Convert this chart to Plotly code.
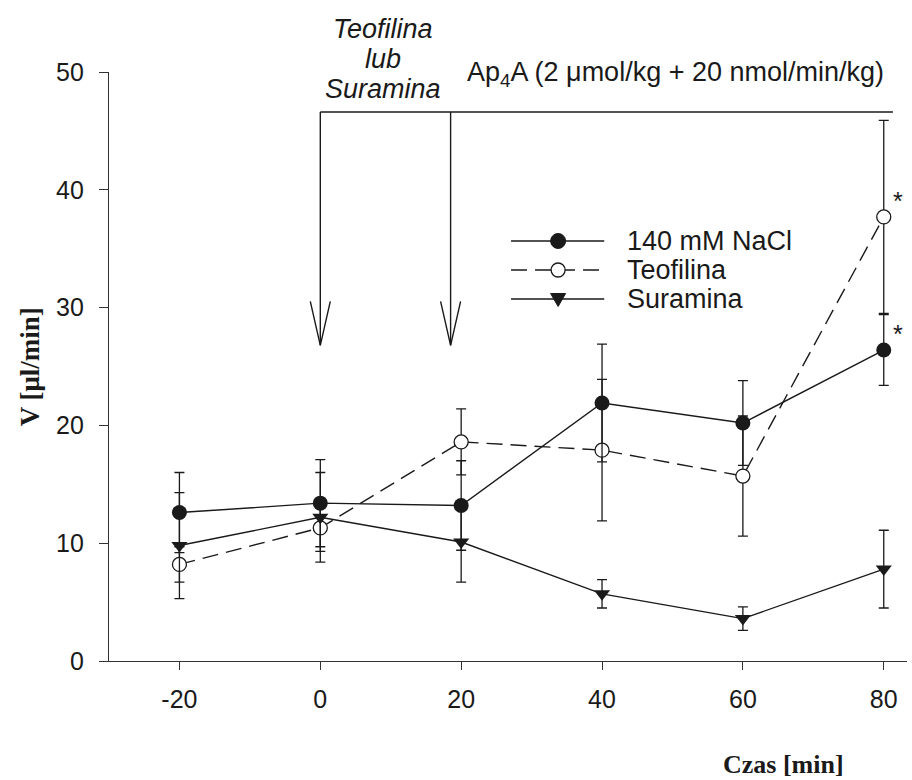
import plotly.graph_objects as go

# Time points [min]
czas = [-20, 0, 20, 40, 60, 80]

# Mean flow V [ul/min] and error (+/-) for each group
nacl = [12.6, 13.4, 13.2, 21.9, 20.2, 26.4]
nacl_err = [3.4, 3.7, 3.8, 5.0, 3.6, 3.0]

teofilina = [8.2, 11.3, 18.6, 17.9, 15.7, 37.7]
teofilina_err = [1.5, 2.0, 2.8, 6.0, 5.1, 8.2]

suramina = [9.8, 12.2, 10.1, 5.7, 3.6, 7.8]
suramina_err = [4.5, 3.8, 3.4, 1.2, 1.0, 3.3]

series_names = ["140 mM NaCl", "Teofilina", "Suramina"]

# Treatment timeline: arrows at drug start and Ap4A start, bracket height
arrow_times = [0, 18.5]
bracket_y = 46.6
arrow_tip_y = 26.8
bracket_end = 81.3

x_ticks = [-20, 0, 20, 40, 60, 80]
x_tick_labels = ["-20", "0", "20", "40", "60", "80"]
y_ticks = [0, 10, 20, 30, 40, 50]

INK = "#1a1a1a"
SANS = "Liberation Sans, Arial, sans-serif"
SERIF = "Liberation Serif, Times New Roman, serif"

fig = go.Figure()

def err(arr):
    return dict(type="data", array=arr, visible=True, color=INK,
                thickness=1.3, width=5)

fig.add_trace(go.Scatter(
    x=czas, y=teofilina, error_y=err(teofilina_err), mode="lines+markers",
    name=series_names[1], showlegend=False,
    line=dict(color=INK, width=1.4, dash="16px,8px"),
    marker=dict(symbol="circle", size=14, color="white",
                line=dict(color=INK, width=1.3)),
))
fig.add_trace(go.Scatter(
    x=czas, y=suramina, error_y=err(suramina_err), mode="lines+markers",
    name=series_names[2], showlegend=False,
    line=dict(color=INK, width=1.4),
    marker=dict(symbol="triangle-down", size=14, color=INK),
))
fig.add_trace(go.Scatter(
    x=czas, y=nacl, error_y=err(nacl_err), mode="lines+markers",
    name=series_names[0], showlegend=False,
    line=dict(color=INK, width=1.4),
    marker=dict(symbol="circle", size=15, color=INK),
))

shapes = []
# Bracket with open arrowheads marking the infusion periods
shapes.append(dict(type="line", xref="x", yref="y", x0=arrow_times[0], x1=bracket_end,
                   y0=bracket_y, y1=bracket_y, line=dict(color=INK, width=1.4)))
for t in arrow_times:
    shapes.append(dict(type="line", xref="x", yref="y", x0=t, x1=t,
                       y0=bracket_y, y1=arrow_tip_y, line=dict(color=INK, width=1.4)))
    shapes.append(dict(type="path", xref="x", yref="y",
                       xsizemode="pixel", ysizemode="pixel",
                       xanchor=t, yanchor=arrow_tip_y,
                       path="M -10,44 L 0,0 L 10,44",
                       line=dict(color=INK, width=1.4)))

# Custom legend keys (long line with marker in the middle)
leg_x0, leg_x1, leg_xm, leg_text_x = 0.5038, 0.6206, 0.5628, 0.6470
leg_rows = [0.7131, 0.6638, 0.6146]
dashes = ["solid", "16px,8px", "solid"]
for i, yy in enumerate(leg_rows):
    shapes.append(dict(type="line", xref="paper", yref="paper", x0=leg_x0, x1=leg_x1,
                       y0=yy, y1=yy, line=dict(color=INK, width=1.4, dash=dashes[i])))
# filled circle
shapes.append(dict(type="circle", xref="paper", yref="paper", xsizemode="pixel", ysizemode="pixel",
                   xanchor=leg_xm, yanchor=leg_rows[0], x0=-7.5, x1=7.5, y0=-7.5, y1=7.5,
                   fillcolor=INK, line=dict(color=INK, width=1)))
# open circle
shapes.append(dict(type="circle", xref="paper", yref="paper", xsizemode="pixel", ysizemode="pixel",
                   xanchor=leg_xm, yanchor=leg_rows[1], x0=-7, x1=7, y0=-7, y1=7,
                   fillcolor="white", line=dict(color=INK, width=1.3)))
# down triangle
shapes.append(dict(type="path", xref="paper", yref="paper", xsizemode="pixel", ysizemode="pixel",
                   xanchor=leg_xm, yanchor=leg_rows[2],
                   path="M -7.5,5.5 L 7.5,5.5 L 0,-7.5 Z",
                   fillcolor=INK, line=dict(color=INK, width=1)))

annotations = []
for name, yy in zip(series_names, leg_rows):
    annotations.append(dict(xref="paper", yref="paper", x=leg_text_x, y=yy, text=name,
                            showarrow=False, xanchor="left", yanchor="middle",
                            font=dict(family=SANS, size=27, color=INK)))

# Treatment labels above the bracket
for txt, py in zip(["Teofilina", "lub", "Suramina"], [29, 59, 89]):
    annotations.append(dict(xref="paper", yref="paper", x=(382 - 109) / 796,
                            y=(661 - py) / 589, text="<i>" + txt + "</i>",
                            showarrow=False, xanchor="center", yanchor="middle",
                            font=dict(family=SANS, size=27, color=INK)))
annotations.append(dict(xref="paper", yref="paper", x=(674 - 109) / 796, y=(661 - 74) / 589,
                        text="Ap<sub>4</sub>A (2 \u03bcmol/kg + 20 nmol/min/kg)",
                        showarrow=False, xanchor="center", yanchor="middle",
                        font=dict(family=SANS, size=27, color=INK)))

# Significance marks at the last time point
for yv in [teofilina[-1], nacl[-1]]:
    annotations.append(dict(x=czas[-1], y=yv, text="*", showarrow=False,
                            xshift=14, yshift=16, font=dict(family=SANS, size=25, color=INK)))

# Axis titles
annotations.append(dict(xref="paper", yref="paper", x=(30 - 109) / 796, y=0.5,
                        text="<b>V [\u03bcl/min]</b>", textangle=-90, showarrow=False,
                        xanchor="center", yanchor="middle",
                        font=dict(family=SERIF, size=27, color=INK)))
annotations.append(dict(xref="paper", yref="paper", x=(782 - 109) / 796, y=(661 - 765) / 589,
                        text="<b>Czas [min]</b>", showarrow=False,
                        xanchor="center", yanchor="middle",
                        font=dict(family=SERIF, size=26, color=INK)))

fig.update_layout(
    width=912, height=780,
    margin=dict(l=109, r=5, t=72, b=119),
    paper_bgcolor="white", plot_bgcolor="white",
    showlegend=False,
    shapes=shapes, annotations=annotations,
    xaxis=dict(range=[-30, 83.3], tickvals=x_ticks, ticktext=x_tick_labels,
               showgrid=False, zeroline=False,
               showline=True, linecolor="#333", linewidth=1.4,
               ticks="outside", ticklen=8, tickcolor="#333", tickwidth=1.3,
               ticklabelstandoff=8,
               tickfont=dict(family=SANS, size=25, color=INK)),
    yaxis=dict(range=[0, 50], tickvals=y_ticks, showgrid=False, zeroline=False,
               showline=True, linecolor="#333", linewidth=1.4,
               ticks="outside", ticklen=9, tickcolor="#333", tickwidth=1.3,
               ticklabelstandoff=10,
               tickfont=dict(family=SANS, size=25, color=INK)),
)

fig.write_html("out.html")
